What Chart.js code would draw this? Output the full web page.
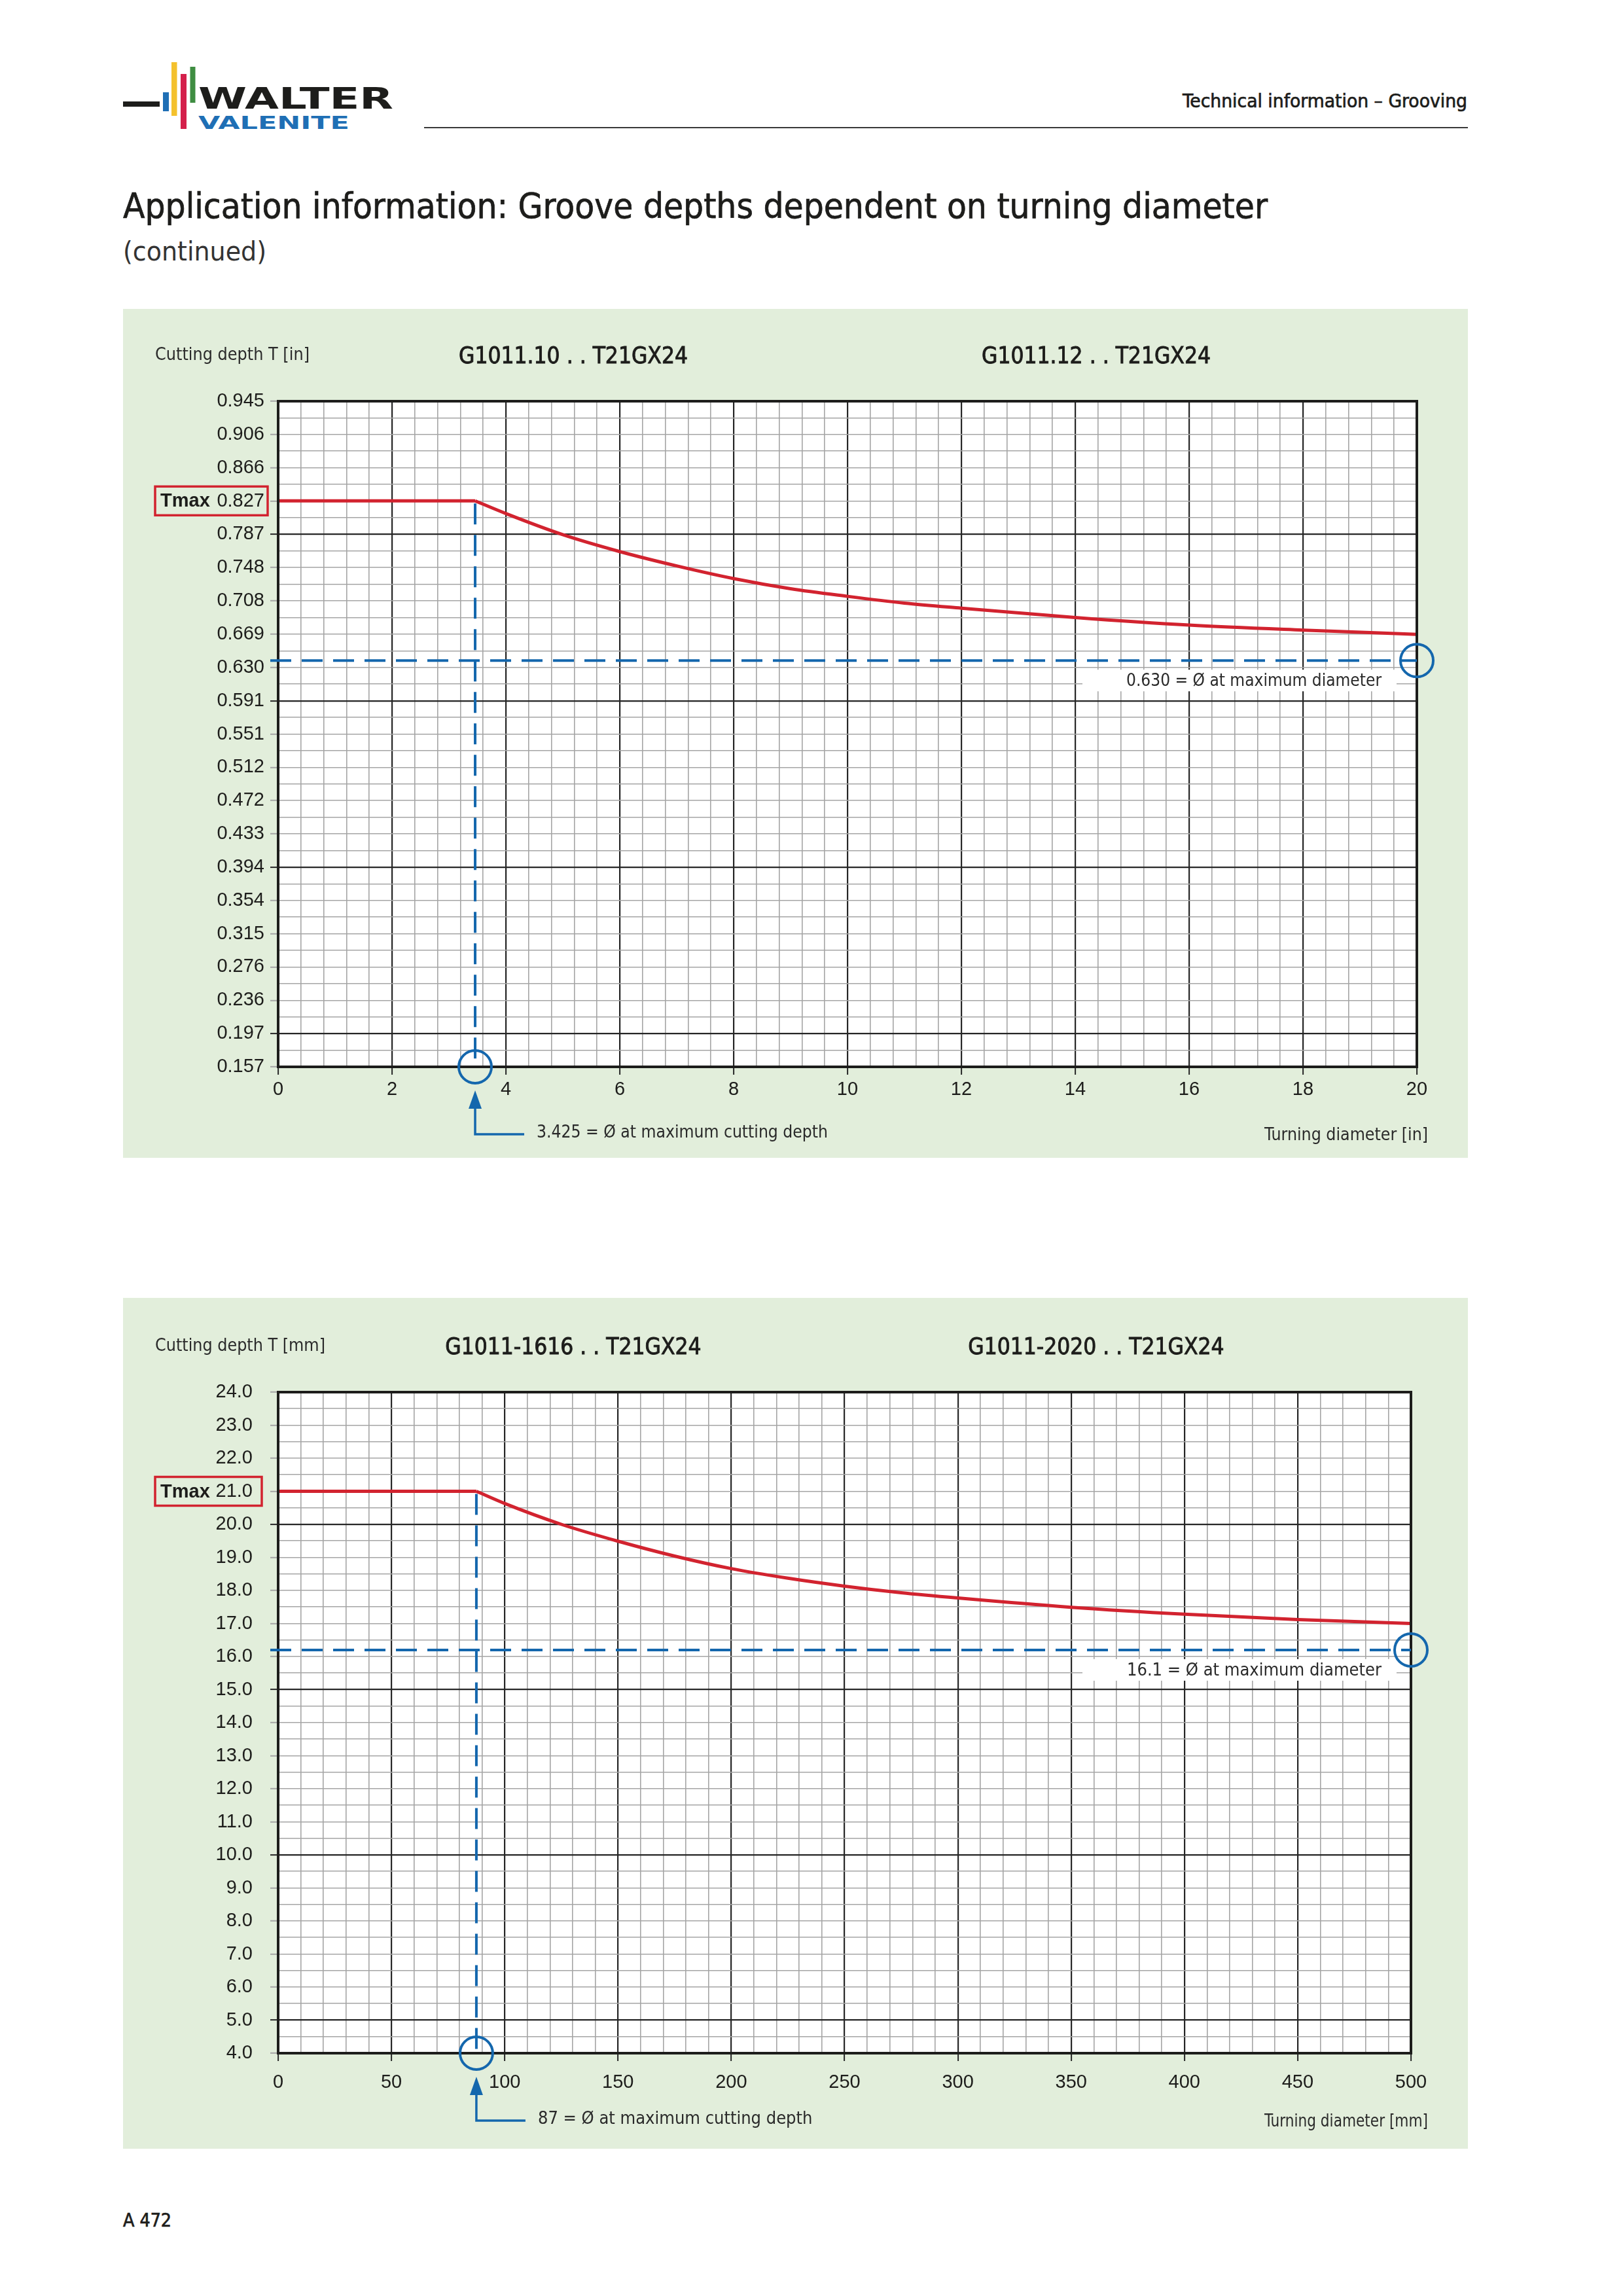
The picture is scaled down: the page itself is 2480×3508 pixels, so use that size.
<!DOCTYPE html>
<html>
<head>
<meta charset="utf-8">
<title>Groove depths dependent on turning diameter</title>
<script src="https://cdn.jsdelivr.net/npm/chart.js@4.4.1/dist/chart.umd.min.js"></script>
<style>
  html, body { margin: 0; padding: 0; }
  body { width: 2480px; height: 3508px; position: relative; overflow: hidden; background: #fff; }
  .panel { position: absolute; left: 188px; width: 2055px; background: #e2eedb; }
  #p-in { top: 472px; height: 1297px; }
  #p-mm { top: 1983px; height: 1300px; }
  .panel canvas { display: block; }
  svg { position: absolute; left: 0; }
  svg text { font-family: 'DejaVu Sans Condensed', 'DejaVu Sans', sans-serif; fill: #1d1d1b; }
  .medium { stroke: #1d1d1b; stroke-width: 0.7px; }
</style>
</head>
<body>

<!-- page header: logo, running head, title -->
<svg width="2480" height="430" style="top:0">
  <rect x="188" y="155" width="56" height="8" fill="#1d1d1b"/>
  <rect x="249" y="141" width="9" height="29" fill="#1f6fb5"/>
  <rect x="262" y="95" width="8.5" height="82" fill="#f4c12d"/>
  <rect x="276" y="113" width="9" height="84" fill="#d4204b"/>
  <rect x="290.5" y="102" width="8" height="55" fill="#3f8d42"/>
  <text x="303" y="166" font-size="45" font-weight="bold" textLength="298" lengthAdjust="spacingAndGlyphs" style="font-family:'DejaVu Sans',sans-serif">WALTER</text>
  <text x="303" y="197" font-size="27" font-weight="bold" textLength="231" lengthAdjust="spacingAndGlyphs" style="font-family:'DejaVu Sans',sans-serif;fill:#1f6fb5">VALENITE</text>
  <text class="medium" x="2242" y="164" font-size="29" text-anchor="end" textLength="435" lengthAdjust="spacingAndGlyphs">Technical information – Grooving</text>
  <line x1="648" y1="195" x2="2243" y2="195" stroke="#3a3a3a" stroke-width="2"/>
  <text class="medium" x="188" y="333" font-size="54" textLength="1749" lengthAdjust="spacingAndGlyphs">Application information: Groove depths dependent on turning diameter</text>
  <text x="188" y="398" font-size="40" textLength="219" lengthAdjust="spacingAndGlyphs" style="fill:#333">(continued)</text>
</svg>

<div class="panel" id="p-in"><canvas id="chart-in" width="2055" height="1297"></canvas></div>
<div class="panel" id="p-mm"><canvas id="chart-mm" width="2055" height="1300"></canvas></div>

<svg width="2480" height="60" style="top:3360px">
  <text class="medium" x="188" y="42" font-size="28" textLength="74" lengthAdjust="spacingAndGlyphs">A 472</text>
</svg>

<script>
// groove depth charts — inch version on top, metric version below

// ---- inch chart ----
const IN_TITLES = ['G1011.10 . . T21GX24', 'G1011.12 . . T21GX24'];
const IN_X_LABELS = ['0', '2', '4', '6', '8', '10', '12', '14', '16', '18', '20'];
const IN_Y_LABELS = ['0.945', '0.906', '0.866', '0.827', '0.787', '0.748', '0.708', '0.669', '0.630', '0.591',
  '0.551', '0.512', '0.472', '0.433', '0.394', '0.354', '0.315', '0.276', '0.236', '0.197', '0.157'];
const IN_Y_BOLD = ['0.787', '0.591', '0.394', '0.197'];
const IN_DIAMETER = [0, 3.46, 4, 5, 6, 7, 8, 9, 10, 11, 12, 14, 16, 18, 20];
const IN_DEPTH = [0.827, 0.827, 0.812, 0.787, 0.767, 0.750, 0.735, 0.723, 0.714, 0.706, 0.700, 0.689, 0.680, 0.674, 0.669];
const IN_KNEE = 3.46;           // Ø at maximum cutting depth (drawn position)
const IN_TMAX = 0.827;
const IN_MAXDIA_LINE = 0.638;   // dashed line at the largest diameter

// ---- metric chart ----
const MM_TITLES = ['G1011-1616 . . T21GX24', 'G1011-2020 . . T21GX24'];
const MM_X_LABELS = ['0', '50', '100', '150', '200', '250', '300', '350', '400', '450', '500'];
const MM_Y_LABELS = ['24.0', '23.0', '22.0', '21.0', '20.0', '19.0', '18.0', '17.0', '16.0', '15.0',
  '14.0', '13.0', '12.0', '11.0', '10.0', '9.0', '8.0', '7.0', '6.0', '5.0', '4.0'];
const MM_Y_BOLD = ['20.0', '15.0', '10.0', '5.0'];
const MM_DIAMETER = [0, 87.5, 100, 125, 150, 175, 200, 225, 250, 275, 300, 350, 400, 450, 500];
const MM_DEPTH = [21.0, 21.0, 20.63, 20.0, 19.49, 19.04, 18.66, 18.37, 18.13, 17.93, 17.77, 17.49, 17.28, 17.12, 17.0];
const MM_KNEE = 87.5;
const MM_TMAX = 21.0;
const MM_MAXDIA_LINE = 16.2;

const INK = '#1d1d1b';
const RED = '#d2232f';
const BLUE = '#1467ad';
const GRID_DARK = '#262626';
const GRID_GRAY = '#a5a5a5';
const DIN = "'DejaVu Sans Condensed', 'DejaVu Sans', sans-serif";
const TICK_FONT = { family: "'Liberation Sans', Arial, sans-serif", size: 29 };

// x ticks: labelled every label, minor lines in between
function xTicks(labels, minorPerStep) {
  const vals = labels.map(Number);
  const step = (vals[1] - vals[0]) / minorPerStep;
  const out = [];
  vals.forEach((v, i) => {
    out.push({ value: v, lbl: labels[i], bold: true });
    if (i < vals.length - 1) {
      for (let k = 1; k < minorPerStep; k++) out.push({ value: v + k * step, lbl: '', bold: false });
    }
  });
  return out;
}

// y ticks: labels are rounded mm values, so space them evenly between first and last
function yTicks(labels, boldList) {
  const n = labels.length - 1;
  const top = Number(labels[0]), bot = Number(labels[n]);
  const step = (top - bot) / n;
  const out = [];
  for (let i = n; i >= 0; i--) {
    const v = top - i * step;
    out.push({ value: v, lbl: labels[i], bold: boldList.includes(labels[i]) });
    if (i > 0) out.push({ value: v + step / 2, lbl: '', bold: false });
  }
  return out;
}

function drawText(ctx, str, x, y, font, align, color, maxW, weight) {
  ctx.save();
  ctx.font = font;
  ctx.fillStyle = color || INK;
  ctx.textAlign = align || 'left';
  ctx.textBaseline = 'middle';
  if (maxW) ctx.fillText(str, x, y, maxW); else ctx.fillText(str, x, y);
  if (weight) {   // fake a medium weight
    ctx.strokeStyle = ctx.fillStyle;
    ctx.lineWidth = weight;
    if (maxW) ctx.strokeText(str, x, y, maxW); else ctx.strokeText(str, x, y);
  }
  ctx.restore();
}

// frame, Tmax box, dashed guide lines, circles, arrow and all panel texts
const groovePlugin = {
  id: 'groove',
  beforeDraw(chart) {
    const { ctx, chartArea: a } = chart;
    ctx.save();
    ctx.fillStyle = '#fff';
    ctx.fillRect(a.left, a.top, a.right - a.left, a.bottom - a.top);
    ctx.restore();
  },
  afterDatasetsDraw(chart, args, o) {
    const { ctx, chartArea: a, scales: { x, y } } = chart;
    const kx = x.getPixelForValue(o.knee);
    const ty = y.getPixelForValue(o.tmax);
    const my = y.getPixelForValue(o.maxDia);

    // white patch behind the max-diameter note
    ctx.save();
    ctx.fillStyle = '#fff';
    ctx.fillRect(1466, my + 14, 480, 33);
    ctx.restore();
    drawText(ctx, o.maxDiaText, 1923, my + 32, `27px ${DIN}`, 'right', '#2a2a2a', 390);

    // plot frame
    ctx.save();
    ctx.strokeStyle = INK;
    ctx.lineWidth = 4;
    ctx.strokeRect(a.left, a.top, a.right - a.left, a.bottom - a.top);
    ctx.restore();

    // dashed guides
    ctx.save();
    ctx.strokeStyle = BLUE;
    ctx.lineWidth = 4;
    ctx.setLineDash([32, 16]);
    ctx.beginPath();
    ctx.moveTo(kx, ty + 4);
    ctx.lineTo(kx, a.bottom);
    ctx.stroke();
    ctx.beginPath();
    ctx.moveTo(a.left - 12, my);
    ctx.lineTo(a.right, my);
    ctx.stroke();
    ctx.setLineDash([]);

    // circles
    ctx.lineWidth = 4;
    ctx.beginPath();
    ctx.arc(kx, a.bottom, 25, 0, Math.PI * 2);
    ctx.stroke();
    ctx.beginPath();
    ctx.arc(a.right, my, 25, 0, Math.PI * 2);
    ctx.stroke();

    // arrow to the knee diameter
    const b = a.bottom;
    ctx.fillStyle = BLUE;
    ctx.beginPath();
    ctx.moveTo(kx, b + 36);
    ctx.lineTo(kx - 10, b + 64);
    ctx.lineTo(kx + 10, b + 64);
    ctx.closePath();
    ctx.fill();
    ctx.lineWidth = 3.5;
    ctx.beginPath();
    ctx.moveTo(kx, b + 62);
    ctx.lineTo(kx, b + 103);
    ctx.lineTo(kx + 75, b + 103);
    ctx.stroke();

    // Tmax box
    ctx.strokeStyle = RED;
    ctx.lineWidth = 3.5;
    ctx.strokeRect(a.left - 188, ty - 22, 188 - o.boxGap, 44);
    ctx.restore();
    drawText(ctx, 'Tmax', a.left - 180, ty + 1, `bold 29px ${TICK_FONT.family}`, 'left', INK);

    drawText(ctx, o.kneeText, kx + 94, b + 101, `27px ${DIN}`, 'left', '#2a2a2a', 445);
    drawText(ctx, o.xTitle, chart.width - 61, b + 105, `27px ${DIN}`, 'right', '#2a2a2a', 250);
    drawText(ctx, o.yTitle, 49, a.top - 70, `27px ${DIN}`, 'left', '#2a2a2a', o.yTitleW);
    drawText(ctx, o.titles[0], 688, a.top - 67, `35px ${DIN}`, 'center', INK, 415, 0.9);
    drawText(ctx, o.titles[1], 1487, a.top - 67, `35px ${DIN}`, 'center', INK, 415, 0.9);
  },
};

function buildChart(canvasId, d) {
  const xList = xTicks(d.xLabels, 5);
  const yList = yTicks(d.yLabels, d.yBold);
  const flat = [0, 1].map(i => ({ x: d.dia[i], y: d.depth[i] }));
  const curve = d.dia.slice(1).map((v, i) => ({ x: v, y: d.depth[i + 1] }));

  const gridColor = c => (c.tick && c.tick.bold ? GRID_DARK : GRID_GRAY);
  const gridWidth = c => (c.tick && c.tick.bold ? 2.2 : 1.6);
  const tickColor = c => (c.tick && c.tick.lbl ? gridColor(c) : 'rgba(0,0,0,0)');
  const line = { borderColor: RED, borderWidth: 5, pointRadius: 0, fill: false };

  return new Chart(document.getElementById(canvasId), {
    type: 'line',
    data: {
      datasets: [
        { ...line, data: flat, tension: 0 },
        { ...line, data: curve, cubicInterpolationMode: 'monotone' },
      ],
    },
    plugins: [groovePlugin],
    options: {
      responsive: false,
      devicePixelRatio: 1,
      animation: false,
      events: [],
      layout: { padding: { top: d.padTop, right: d.padRight, left: 0, bottom: 0 } },
      plugins: {
        legend: { display: false },
        tooltip: { enabled: false },
        groove: d.ann,
      },
      scales: {
        x: {
          type: 'linear',
          min: xList[0].value,
          max: xList[xList.length - 1].value,
          afterBuildTicks: s => { s.ticks = xList.map(t => ({ ...t })); },
          afterFit: s => { s.height = d.xAxisH; s.paddingLeft = 0; s.paddingRight = 0; },
          ticks: { autoSkip: false, maxRotation: 0, padding: d.xPad, color: INK, font: TICK_FONT,
            callback: (v, i, t) => t[i].lbl },
          grid: { color: gridColor, lineWidth: gridWidth, tickLength: 12, tickColor, tickWidth: 2 },
          border: { display: false },
        },
        y: {
          type: 'linear',
          min: yList[0].value,
          max: yList[yList.length - 1].value,
          afterBuildTicks: s => { s.ticks = yList.map(t => ({ ...t })); },
          afterFit: s => { s.width = 237; },
          ticks: { autoSkip: false, padding: d.yPad, color: INK, font: TICK_FONT,
            callback: (v, i, t) => t[i].lbl },
          grid: { color: gridColor, lineWidth: gridWidth, tickLength: 12, tickColor, tickWidth: 2 },
          border: { display: false },
        },
      },
    },
  });
}

buildChart('chart-in', {
  xLabels: IN_X_LABELS, yLabels: IN_Y_LABELS, yBold: IN_Y_BOLD,
  dia: IN_DIAMETER, depth: IN_DEPTH,
  padTop: 141, padRight: 78, xAxisH: 139, xPad: 6, yPad: 9,
  ann: {
    knee: IN_KNEE, tmax: IN_TMAX, maxDia: IN_MAXDIA_LINE, boxGap: 16,
    titles: IN_TITLES,
    yTitle: 'Cutting depth T [in]', yTitleW: 236,
    xTitle: 'Turning diameter [in]',
    kneeText: '3.425 = Ø at maximum cutting depth',
    maxDiaText: '0.630 = Ø at maximum diameter',
  },
});

buildChart('chart-mm', {
  xLabels: MM_X_LABELS, yLabels: MM_Y_LABELS, yBold: MM_Y_BOLD,
  dia: MM_DIAMETER, depth: MM_DEPTH,
  padTop: 144, padRight: 87, xAxisH: 146, xPad: 16, yPad: 27,
  ann: {
    knee: MM_KNEE, tmax: MM_TMAX, maxDia: MM_MAXDIA_LINE, boxGap: 25,
    titles: MM_TITLES,
    yTitle: 'Cutting depth T [mm]', yTitleW: 260,
    xTitle: 'Turning diameter [mm]',
    kneeText: '87 = Ø at maximum cutting depth',
    maxDiaText: '16.1 = Ø at maximum diameter',
  },
});
</script>
</body>
</html>
